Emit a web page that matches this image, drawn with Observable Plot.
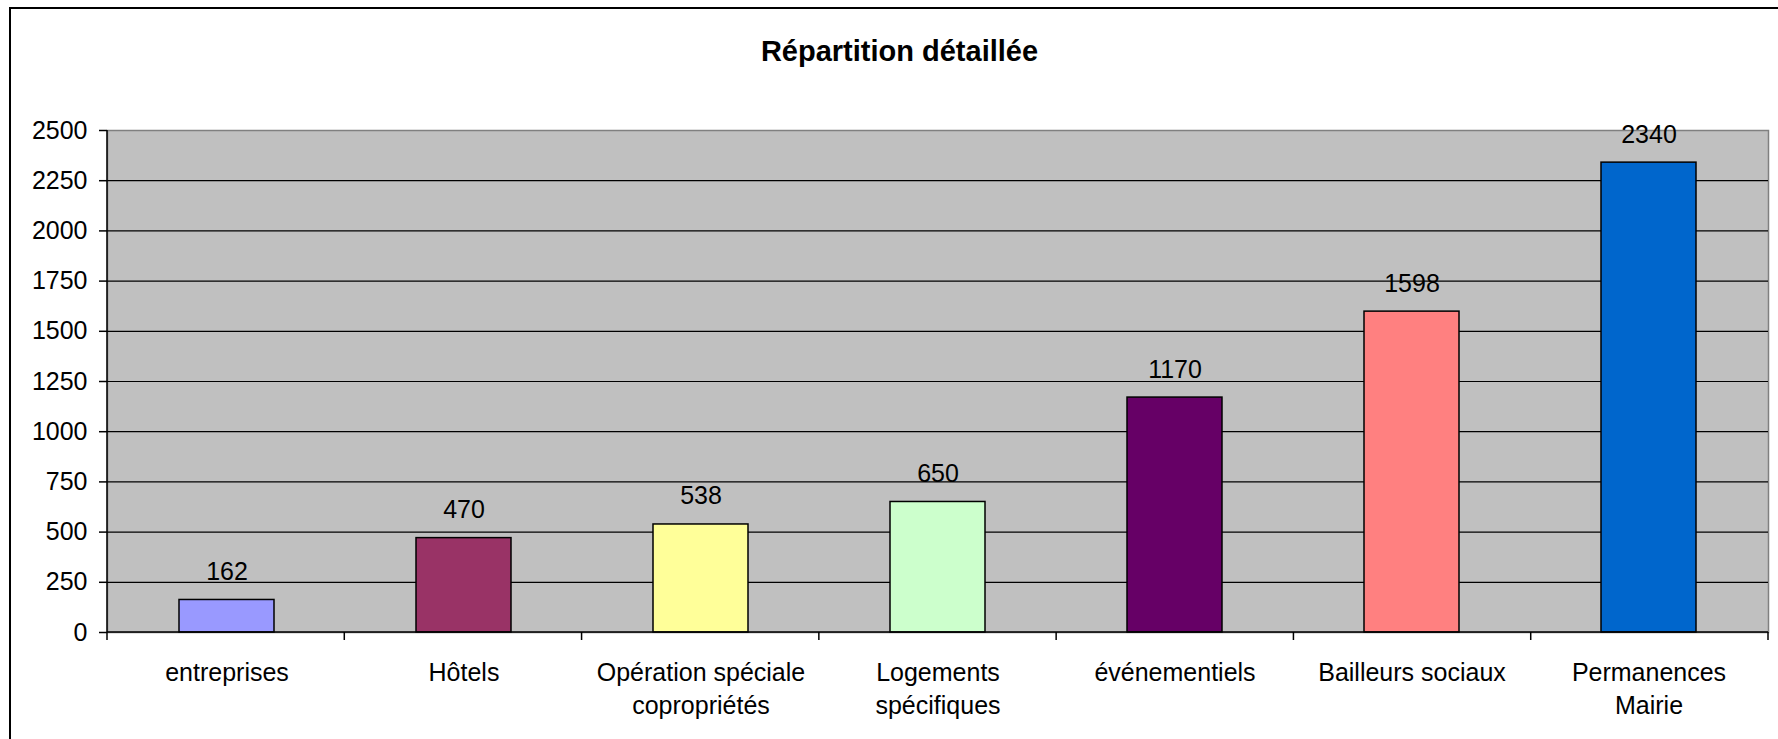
<!DOCTYPE html>
<html>
<head>
<meta charset="utf-8">
<script src="https://cdn.jsdelivr.net/npm/d3@7"></script>
<script src="https://cdn.jsdelivr.net/npm/@observablehq/plot@0.6"></script>
<style>
  html, body { margin: 0; padding: 0; background: #fff; overflow: hidden; width: 1778px; height: 739px; }
  #frame { position: absolute; left: 9px; top: 7px; width: 2000px; height: 1000px; border: 2px solid #000; box-sizing: border-box; }
  #title { position: absolute; left: 0; width: 1799px; top: 37px; text-align: center; font: bold 29px "Liberation Sans", Arial, sans-serif; line-height: 29px; color: #000; margin: 0; }
  #chart { position: absolute; left: 0; top: 0; }
</style>
</head>
<body>
<div id="frame"></div>
<div id="title">Répartition détaillée</div>
<div id="chart"></div>
<script>
const categories = ["entreprises", "Hôtels", "Opération spéciale copropriétés", "Logements spécifiques", "événementiels", "Bailleurs sociaux", "Permanences Mairie"];
const labels = ["entreprises", "Hôtels", "Opération spéciale\ncopropriétés", "Logements\nspécifiques", "événementiels", "Bailleurs sociaux", "Permanences\nMairie"];
const values = [162, 470, 538, 650, 1170, 1598, 2340];
const colors = ["#9999FF", "#993366", "#FFFF99", "#CCFFCC", "#660066", "#FF8080", "#0066CC"];
const yTicks = [0, 250, 500, 750, 1000, 1250, 1500, 1750, 2000, 2250, 2500];
const gridTicks = [250, 500, 750, 1000, 1250, 1500, 1750, 2000, 2250];

const data = categories.map((c, i) => ({category: c, label: labels[i], value: values[i], color: colors[i]}));

function structureLines(index, scales, values, dims) {
  const n = categories.length;
  const x0 = dims.marginLeft;
  const x1 = dims.width - dims.marginRight;
  const step = (x1 - x0) / n;
  const y0 = scales.y(0);
  const yTop = scales.y(2500);
  const g = d3.create("svg:g").attr("stroke", "#000").attr("stroke-width", 1.5).attr("fill", "none");
  g.append("line").attr("x1", x0).attr("x2", x0).attr("y1", yTop).attr("y2", y0 + 8);
  g.append("line").attr("x1", x0).attr("x2", x1).attr("y1", y0).attr("y2", y0);
  for (let i = 1; i <= n; i++) {
    const xx = x0 + i * step;
    g.append("line").attr("x1", xx).attr("x2", xx).attr("y1", y0).attr("y2", y0 + 8);
  }
  return g.node();
}

const chart = Plot.plot({
  width: 1778,
  height: 739,
  marginLeft: 107,
  marginRight: 10,
  marginTop: 130,
  marginBottom: 107,
  style: {fontFamily: '"Liberation Sans", Arial, sans-serif', fontSize: "25px", background: "transparent", color: "#000"},
  x: {domain: categories, paddingInner: 0.6, paddingOuter: 0.3, axis: null},
  y: {domain: [0, 2500], axis: null},
  marks: [
    Plot.frame({fill: "#C0C0C0", stroke: "#808080", strokeWidth: 1.5}),
    Plot.ruleY(gridTicks, {stroke: "#000", strokeWidth: 1.2}),
    Plot.barY(data, {x: "category", y: "value", fill: "color", stroke: "#000", strokeWidth: 1.5}),
    structureLines,
    Plot.axisY({ticks: yTicks, tickFormat: d => String(d), tickSize: 8, tickPadding: 12, fontSize: 25, stroke: "#000", strokeWidth: 1.5, fill: "#000", label: null, strokeOpacity: 1}),
    Plot.text(data, {x: "category", y: "value", text: d => String(d.value), dy: -20, lineAnchor: "bottom", fontSize: 25, fill: "#000"}),
    Plot.text(data, {x: "category", text: "label", frameAnchor: "bottom", lineAnchor: "top", dy: 25, lineHeight: 1.32, fontSize: 25, fill: "#000"})
  ]
});
document.getElementById("chart").appendChild(chart);
</script>
</body>
</html>
